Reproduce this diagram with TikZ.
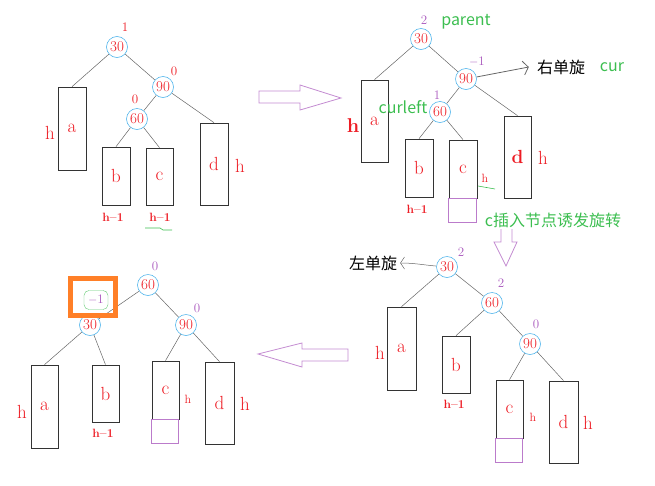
\documentclass[tikz,border=0pt]{standalone}
\usepackage{fontspec}
\newfontfamily\cjk{Noto Sans CJK SC}
\usetikzlibrary{arrows.meta}
\definecolor{rot}{RGB}{237,28,36}
\definecolor{lila}{RGB}{170,90,190}
\definecolor{gruen}{RGB}{60,190,80}
\definecolor{hellblau}{RGB}{80,180,235}
\definecolor{orangerot}{RGB}{255,127,39}
\def\knoten#1#2#3#4{
	\node[knoten] (#1) at (#2,#3) {#4};
}
\def\kasten#1#2#3#4#5#6{
	\node[kasten,minimum width={#4-#2},minimum height={#5-#3}] (#1) at ({(#2+#4)/2},{(#3+#5)/2}) {#6};
}
\def\faktor#1#2#3#4{
	\node[faktor] (#1) at (#2,#3) {#4};
}
\def\zusatz#1#2{
	\draw[zusatzbox] (#1.south west) rectangle ++(#2,24);
}

\begin{document}
\begin{tikzpicture}[x=1pt,y=-1pt,
	knoten/.style={circle,draw=hellblau,line width=0.6pt,inner sep=0pt,minimum size=21pt,text=rot,font=\fontsize{15}{15}\selectfont},
	kasten/.style={draw=black!80,line width=0.7pt,inner sep=0pt,text=rot,font=\fontsize{19}{19}\selectfont},
	zusatzbox/.style={draw=lila!80,line width=0.6pt},
	faktor/.style={text=lila,font=\fontsize{13}{13}\selectfont,inner sep=0pt},
	hgross/.style={text=rot,font=\fontsize{19}{19}\selectfont,inner sep=0pt},
	hklein/.style={text=rot,font=\fontsize{12}{12}\selectfont\bfseries,inner sep=0pt},
	kante/.style={draw=black!60,line width=0.5pt},
	notiz/.style={text=gruen,font=\cjk\fontsize{16}{16}\selectfont,inner sep=0pt},
	dreh/.style={text=black,font=\cjk\fontsize{16}{16}\selectfont,inner sep=0pt},
	pfeil/.style={draw=lila!70,line width=0.8pt}]
\useasboundingbox (0,0) rectangle (655,485);

% oben links: vor dem Einfuegen
\begin{scope}[faktor/.append style={text=rot}]
\knoten{A30}{117}{47}{30}
\knoten{A90}{163}{87}{90}
\knoten{A60}{137}{119}{60}
\kasten{Aa}{58}{87}{86}{170}{a}
\kasten{Ab}{102}{147}{130}{205}{b}
\kasten{Ac}{146}{148}{173}{205}{c}
\kasten{Ad}{200}{123}{228}{205}{d}
\faktor{A30f}{125}{27}{1}
\faktor{A90f}{174}{71}{0}
\faktor{A60f}{135}{99}{0}
\end{scope}
\node[hgross] (Aha) at (50,133) {h};
\node[hklein] (Ahb) at (113,217) {h--1};
\node[hklein] (Ahc) at (160,217) {h--1};
\node[hgross] (Ahd) at (240,166) {h};
\draw[gruen,line width=0.6pt] (145,228) -- (160,228) -- (163,230) -- (172,230);
\draw[kante] (A30) -- (Aa.north);
\draw[kante] (A30) -- (A90);
\draw[kante] (A90) -- (A60);
\draw[kante] (A90) -- (Ad.north);
\draw[kante] (A60) -- (Ab.north);
\draw[kante] (A60) -- (Ac.north);

\draw[pfeil] (259,91) -- (300,91) -- (300,85) -- (341,98) -- (300,110) -- (300,103) -- (259,103) -- cycle;

% oben rechts: c eingefuegt
\knoten{B30}{421}{39}{30}
\knoten{B90}{466}{79}{90}
\knoten{B60}{440}{112}{60}
\kasten{Ba}{361}{80}{388}{162}{a}
\kasten{Bb}{405}{139}{433}{197}{b}
\kasten{Bc}{449}{140}{477}{198}{c}
\kasten{Bd}{504}{116}{531}{198}{\bfseries d}
\zusatz{Bc}{28}
\faktor{B30f}{424}{20}{2}
\faktor{B90f}{477}{62}{$-$1}
\faktor{B60f}{437}{95}{1}
\node[notiz] (Bparent) at (466,22) {parent};
\node[dreh] (Brechts) at (561,67) {右单旋};
\node[notiz] (Bcur) at (612,67) {cur};
\node[notiz] (Bcurleft) at (403,107) {curleft};
\node[hgross,font=\fontsize{20}{20}\selectfont\bfseries] (Bha) at (353,126) {h};
\node[hklein] (Bhb) at (417,209) {h--1};
\node[hklein,font=\fontsize{12}{12}\selectfont] (Bhc) at (485,178) {h};
\node[hgross] (Bhd) at (543,158) {h};
\draw[gruen,line width=0.6pt] (478,186) -- (495,189);
\node[notiz] (Btext) at (553,220) {c插入节点诱发旋转};
\draw[kante] (B30) -- (Ba.north);
\draw[kante] (B30) -- (B90);
\draw[kante] (B90) -- (B60);
\draw[kante] (B90) -- (Bd.north);
\draw[kante] (B60) -- (Bb.north);
\draw[kante] (B60) -- (Bc.north);
\draw[kante,line width=0.8pt,-{Straight Barb[length=5pt,width=14pt]}] (B90) -- ([xshift=-8pt]Brechts.west);

\draw[pfeil] (501,229) -- (501,242) -- (494,242) -- (506,266) -- (517,242) -- (512,242) -- (512,229);

% unten rechts: nach der Rechtsrotation
\knoten{C30}{447}{267}{30}
\knoten{C60}{492}{303}{60}
\knoten{C90}{530}{344}{90}
\kasten{Ca}{387}{307}{416}{390}{a}
\kasten{Cb}{442}{336}{470}{393}{b}
\kasten{Cc}{496}{380}{523}{438}{c}
\kasten{Cd}{549}{381}{578}{463}{d}
\zusatz{Cc}{27}
\faktor{C30f}{461}{252}{2}
\faktor{C60f}{501}{283}{2}
\faktor{C90f}{536}{324}{0}
\node[dreh] (Clinks) at (373,263) {左单旋};
\node[hgross] (Cha) at (380,353) {h};
\node[hklein] (Chb) at (454,404) {h--1};
\node[hklein,font=\fontsize{12}{12}\selectfont] (Chc) at (533,417) {h};
\node[hgross] (Chd) at (588,423) {h};
\draw[kante] (C30) -- (Ca.north);
\draw[kante] (C30) -- (C60);
\draw[kante] (C60) -- (Cb.north);
\draw[kante] (C60) -- (C90);
\draw[kante] (C90) -- (Cc.north);
\draw[kante] (C90) -- (Cd.north);
\draw[kante,-{Straight Barb[length=4pt,width=12pt]}] (C30) to[out=175,in=0] ([xshift=3pt]Clinks.east);

\draw[pfeil] (348,349) -- (302,349) -- (302,343) -- (258,354) -- (302,367) -- (302,361) -- (348,361) -- cycle;

% unten links: nach der Linksrotation
\knoten{D60}{148}{285}{60}
\knoten{D30}{90}{325}{30}
\knoten{D90}{186}{325}{90}
\kasten{Da}{31}{365}{58}{448}{a}
\kasten{Db}{92}{365}{119}{422}{b}
\kasten{Dc}{152}{361}{179}{419}{c}
\kasten{Dd}{205}{362}{234}{444}{d}
\zusatz{Dc}{27}
\faktor{D60f}{155}{266}{0}
\faktor{D90f}{197}{308}{0}
\node[hgross] (Dha) at (22,412) {h};
\node[hklein] (Dhb) at (103,433) {h--1};
\node[hklein,font=\fontsize{12}{12}\selectfont] (Dhc) at (188,399) {h};
\node[hgross] (Dhd) at (245,404) {h};
\draw[kante] (D60) -- (D30);
\draw[kante] (D60) -- (D90);
\draw[kante] (D30) -- (Da.north);
\draw[kante] (D30) -- (Db.north);
\draw[kante] (D90) -- (Dc.north);
\draw[kante] (D90) -- (Dd.north);
\draw[orangerot,line width=5pt] (70.5,278.5) rectangle (115.5,315.5);
\node[faktor,draw=gruen!80,rounded corners=5pt,minimum width=24pt,minimum height=19pt] (D30f) at (96,300) {$-$1};
\end{tikzpicture}
\end{document}
